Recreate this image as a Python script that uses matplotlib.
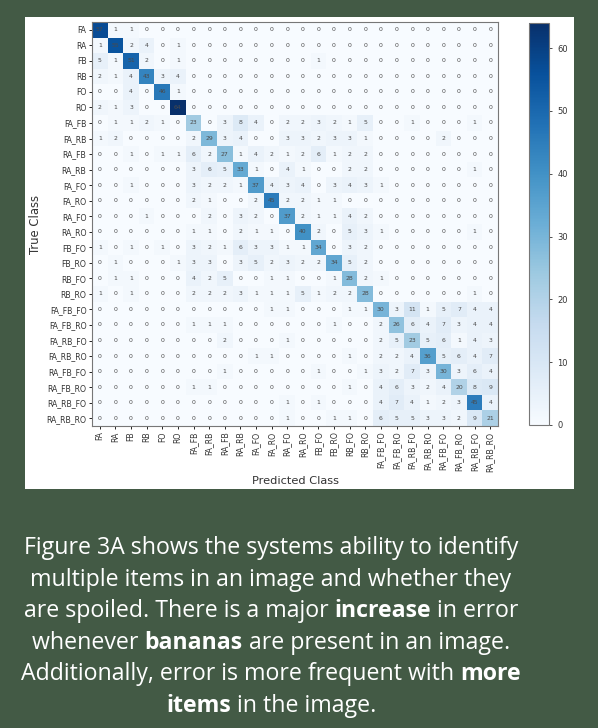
import numpy as np
import matplotlib
matplotlib.use('Agg')
import matplotlib.pyplot as plt
from matplotlib.patches import Rectangle

classes = ['FA', 'RA', 'FB', 'RB', 'FO', 'RO',
           'FA_FB', 'FA_RB', 'RA_FB', 'RA_RB',
           'FA_FO', 'FA_RO', 'RA_FO', 'RA_RO',
           'FB_FO', 'FB_RO', 'RB_FO', 'RB_RO',
           'FA_FB_FO', 'FA_FB_RO', 'FA_RB_FO', 'FA_RB_RO',
           'RA_FB_FO', 'RA_FB_RO', 'RA_RB_FO', 'RA_RB_RO']

# confusion matrix, rows = true class, cols = predicted class
cm = [
    [57, 1, 1, 0, 0, 0, 0, 0, 0, 0, 0, 0, 0, 0, 0, 0, 0, 0, 0, 0, 0, 0, 0, 0, 0, 0],
    [1, 55, 2, 4, 0, 1, 0, 0, 0, 0, 0, 0, 0, 0, 0, 0, 0, 0, 0, 0, 0, 0, 0, 0, 0, 0],
    [5, 1, 51, 2, 0, 1, 0, 0, 0, 0, 0, 0, 0, 0, 1, 0, 0, 0, 0, 0, 0, 0, 0, 0, 0, 0],
    [2, 1, 4, 43, 3, 4, 0, 0, 0, 0, 0, 0, 0, 0, 0, 0, 0, 0, 0, 0, 0, 0, 0, 0, 0, 0],
    [0, 0, 4, 0, 46, 1, 0, 0, 0, 0, 0, 0, 0, 0, 0, 0, 0, 0, 0, 0, 0, 0, 0, 0, 0, 0],
    [2, 1, 3, 0, 0, 64, 0, 0, 0, 0, 0, 0, 0, 0, 0, 0, 0, 0, 0, 0, 0, 0, 0, 0, 0, 0],
    [0, 1, 1, 2, 1, 0, 23, 0, 3, 8, 4, 0, 2, 2, 3, 2, 1, 5, 0, 0, 1, 0, 0, 0, 1, 0],
    [1, 2, 0, 0, 0, 0, 2, 29, 3, 4, 0, 0, 3, 3, 2, 3, 3, 1, 0, 0, 0, 0, 2, 0, 0, 0],
    [0, 0, 1, 0, 1, 1, 6, 2, 27, 1, 4, 2, 1, 2, 6, 1, 2, 2, 0, 0, 0, 0, 0, 0, 0, 0],
    [0, 0, 0, 0, 0, 0, 3, 6, 5, 33, 1, 0, 4, 1, 0, 0, 2, 2, 0, 0, 0, 0, 0, 0, 1, 0],
    [0, 0, 1, 0, 0, 0, 3, 2, 2, 1, 37, 4, 3, 4, 0, 3, 4, 3, 1, 0, 0, 0, 0, 0, 0, 0],
    [0, 0, 0, 0, 0, 0, 2, 1, 0, 0, 2, 45, 2, 2, 1, 1, 0, 0, 0, 0, 0, 0, 0, 0, 0, 0],
    [0, 0, 0, 1, 0, 0, 0, 2, 0, 3, 2, 0, 37, 2, 1, 1, 4, 2, 0, 0, 0, 0, 0, 0, 0, 0],
    [0, 0, 0, 0, 0, 0, 1, 1, 0, 2, 1, 1, 0, 40, 2, 0, 5, 3, 1, 0, 0, 0, 0, 0, 1, 0],
    [1, 0, 1, 0, 1, 0, 3, 2, 1, 6, 3, 3, 1, 1, 34, 0, 3, 2, 0, 0, 0, 0, 0, 0, 0, 0],
    [0, 1, 0, 0, 0, 1, 3, 3, 0, 3, 5, 2, 3, 2, 2, 34, 5, 2, 0, 0, 0, 0, 0, 0, 0, 0],
    [0, 1, 1, 0, 0, 0, 4, 2, 5, 0, 0, 1, 1, 0, 0, 1, 28, 2, 1, 0, 0, 0, 0, 0, 0, 0],
    [1, 0, 1, 0, 0, 0, 2, 2, 2, 3, 1, 1, 1, 5, 1, 2, 2, 28, 0, 0, 0, 0, 0, 0, 1, 0],
    [0, 0, 0, 0, 0, 0, 0, 0, 0, 0, 0, 1, 1, 0, 0, 0, 1, 1, 30, 3, 11, 1, 5, 7, 4, 4],
    [0, 0, 0, 0, 0, 0, 1, 1, 1, 0, 0, 0, 0, 0, 0, 1, 0, 0, 2, 26, 6, 4, 7, 3, 4, 4],
    [0, 0, 0, 0, 0, 0, 0, 0, 2, 0, 0, 0, 1, 0, 0, 0, 0, 0, 2, 5, 23, 5, 6, 1, 4, 3],
    [0, 0, 0, 0, 0, 0, 0, 0, 0, 0, 1, 1, 0, 0, 0, 0, 1, 0, 2, 2, 4, 36, 5, 6, 4, 7],
    [0, 0, 0, 0, 0, 0, 0, 0, 1, 0, 0, 0, 0, 0, 1, 0, 0, 1, 3, 2, 7, 3, 30, 3, 6, 4],
    [0, 0, 0, 0, 0, 0, 1, 1, 0, 0, 0, 0, 0, 0, 0, 0, 1, 0, 4, 6, 3, 2, 4, 20, 8, 9],
    [0, 0, 0, 0, 0, 0, 0, 0, 0, 0, 0, 0, 1, 0, 1, 0, 0, 0, 4, 7, 4, 1, 2, 3, 45, 4],
    [0, 0, 0, 0, 0, 0, 0, 0, 0, 0, 0, 0, 1, 0, 0, 1, 1, 0, 6, 5, 5, 3, 3, 2, 9, 21],
]

caption = [
    [('Figure 3A shows the systems ability to identify', False)],
    [('multiple items in an image and whether they', False)],
    [('are spoiled. There is a major ', False), ('increase', True), (' in error', False)],
    [('whenever ', False), ('bananas', True), (' are present in an image.', False)],
    [('Additionally, error is more frequent with ', False), ('more', True)],
    [('items', True), (' in the image.', False)],
]

W, H = 598, 728
fig = plt.figure(figsize=(W / 100, H / 100), dpi=100)
fig.patch.set_facecolor('#435a45')

# white panel behind the chart
fig.patches.append(Rectangle((25 / W, 1 - 489 / H), 549 / W, 472 / H,
                             transform=fig.transFigure, facecolor='white',
                             edgecolor='none', zorder=-10))

ax = fig.add_axes([92 / W, 1 - 426 / H, 406 / W, 404 / H])
data = np.array(cm)
im = ax.imshow(data, cmap='Blues', vmin=0, vmax=64, aspect='auto')
for i in range(len(classes)):
    for j in range(len(classes)):
        ax.text(j, i, str(data[i, j]), ha='center', va='center',
                fontsize=4.4, color='#4a4a4a')

ax.set_xticks(range(len(classes)))
ax.set_yticks(range(len(classes)))
ax.set_xticklabels(classes, rotation=90, fontsize=5.6, color='#333333')
ax.set_yticklabels(classes, fontsize=5.6, color='#333333')
ax.tick_params(length=2.5, width=0.6, pad=1.5)
ax.set_xlabel('Predicted Class', fontsize=8.2, color='#333333', labelpad=3)
ax.set_ylabel('True Class', fontsize=8.4, color='#333333', labelpad=3)
for s in ax.spines.values():
    s.set_color('#777777')
    s.set_linewidth(0.8)

cax = fig.add_axes([529 / W, 1 - 425 / H, 20 / W, 402 / H])
cb = fig.colorbar(im, cax=cax, ticks=[0, 10, 20, 30, 40, 50, 60])
cb.ax.tick_params(labelsize=6, length=2.5, width=0.6, colors='#333333')
cb.outline.set_edgecolor('#777777')
cb.outline.set_linewidth(0.8)

# caption with bold words
renderer = fig.canvas.get_renderer()
y0, dy = 548, 31.6
xc = 271
for k, line in enumerate(caption):
    y = 1 - (y0 + k * dy) / H
    pieces = []
    for txt, bold in line:
        t = fig.text(0, y, txt, fontsize=16.7, family='Open Sans',
                     fontweight='bold' if bold else 'normal',
                     color='white', ha='left', va='center')
        pieces.append(t)
    widths = [p.get_window_extent(renderer).width for p in pieces]
    x = xc - sum(widths) / 2
    for p, w in zip(pieces, widths):
        p.set_x(x / W)
        x += w

fig.savefig('out.png', dpi=100, facecolor=fig.get_facecolor())
